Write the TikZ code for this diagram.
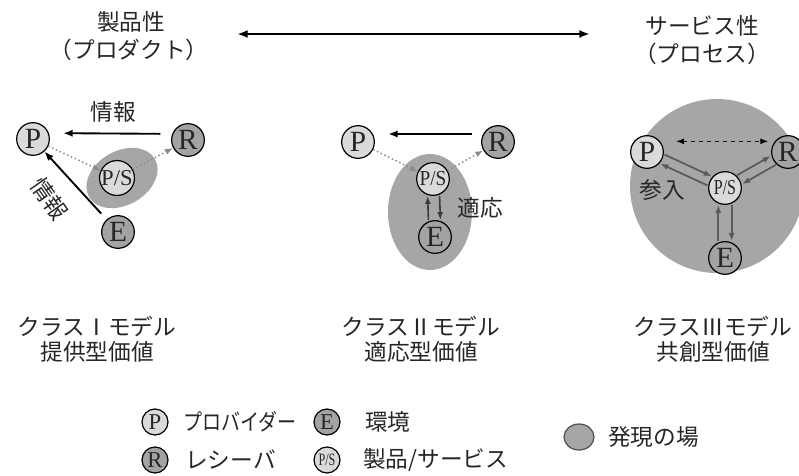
\documentclass[tikz,border=0pt]{standalone}
\usepackage{fontspec}
\usepackage{graphicx}
\setmainfont{Liberation Serif}
\newfontfamily\jp{Noto Sans CJK JP}
\usetikzlibrary{arrows.meta,shapes.geometric}
\definecolor{lite}{HTML}{DADADA}
\definecolor{mid}{HTML}{A3A3A3}
\definecolor{field}{HTML}{A6A6A6}
\definecolor{flowgray}{HTML}{5A5A5A}
\definecolor{flowdark}{HTML}{3C3C3C}
\definecolor{dotgray}{HTML}{8A8A8A}
\tikzset{
  agent/.style={circle,draw=black,line width=0.9pt,minimum size=24.5pt,inner sep=0pt,text=black!85,font=\fontsize{22}{22}\selectfont},
  lagent/.style={agent,fill=lite},
  dagent/.style={agent,fill=mid},
  legagent/.style={minimum size=19.5pt,font=\fontsize{17}{17}\selectfont},
  jtext/.style={font=\jp\fontsize{17}{22}\selectfont,text=black!85,align=center,inner sep=0pt},
  info/.style={-{Latex[length=7pt,width=5.5pt]},line width=1.4pt},
  dots/.style={-{Latex[length=6pt,width=4.5pt]},dotgray,line width=1.1pt,dotted},
  flow/.style={-{Latex[length=6pt,width=4.5pt]},flowgray,line width=1.3pt},
  flowd/.style={-{Latex[length=6pt,width=4.5pt]},flowdark,line width=1.2pt},
  dbl/.style={{Latex[length=6pt,width=4.5pt]}-{Latex[length=6pt,width=4.5pt]},dashed,line width=1.1pt},
  axis/.style={{Latex[length=8pt,width=6pt]}-{Latex[length=8pt,width=6pt]},line width=1.8pt},
  fieldmark/.style={ellipse,draw=black!70,fill=field,line width=0.9pt,minimum width=22.5pt,minimum height=19.5pt,inner sep=0pt}
}
\begin{document}
\begin{tikzpicture}[x=0.75pt,y=-0.75pt]
\useasboundingbox (0,0) rectangle (799,475);

% top axis
\node[jtext] (prod) at (131,22) {製品性};
\node[jtext] (prodsub) at (129,50) {（プロダクト）};
\node[jtext] (serv) at (702,26) {サービス性};
\node[jtext] (servsub) at (702,54) {（プロセス）};
\coordinate (axL) at (237,34);
\coordinate (axR) at (590,34);
\draw[axis] (axL) -- (axR);

% class I
\fill[field, rotate around={30:(122,178)}] (122,178) ellipse [x radius=38, y radius=27];
\node[lagent] (c1P) at (33,139) {P};
\node[dagent] (c1R) at (188,140) {R};
\node[lagent,font=\fontsize{17}{17}\selectfont] (c1S) at (117,178) {P/S};
\node[dagent] (c1E) at (118,232) {E};
\draw[info, transform canvas={yshift=4.5pt}, shorten <=8pt, shorten >=10pt] (c1R) -- (c1P);
\node[jtext] (c1info) at (113,112) {情報};
\draw[info, shorten <=6pt] (c1E) -- (c1P);
\node[jtext, rotate=-55] (c1info2) at (50,199) {情報};
\draw[dots] (c1P) -- (c1S);
\draw[dots] (c1S) -- (c1R);

% class II
\fill[field] (430,212) ellipse [x radius=42, y radius=58];
\node[lagent] (c2P) at (358,142) {P};
\node[dagent] (c2R) at (498,142) {R};
\node[lagent,font=\fontsize{16}{16}\selectfont] (c2S) at (433,179) {\scalebox{0.9}[1]{P/S}};
\node[dagent] (c2E) at (435,237) {E};
\draw[info, transform canvas={yshift=6pt}, shorten <=7pt, shorten >=10pt] (c2R) -- (c2P);
\draw[dots] (c2P) -- (c2S);
\draw[dots] (c2S) -- (c2R);
\draw[flowd, transform canvas={xshift=-4.5pt}] (c2E) -- (c2S);
\draw[flowd, transform canvas={xshift=4.5pt}] (c2S) -- (c2E);
\node[jtext] (c2adapt) at (480,208) {適応};

% class III
\fill[field] (717,186) circle [radius=87];
\node[lagent] (c3P) at (647,152) {P};
\node[dagent] (c3R) at (788,152) {R};
\node[lagent] (c3S) at (725,188) {\scalebox{0.75}[1]{\fontsize{16}{16}\selectfont P/S}};
\node[dagent] (c3E) at (725,258) {E};
\draw[dbl, transform canvas={yshift=8pt}, shorten <=9pt, shorten >=2pt] (c3P) -- (c3R);
\draw[flow, transform canvas={xshift=1.6pt,yshift=3.4pt}] (c3P) -- (c3S);
\draw[flow, transform canvas={xshift=-1.6pt,yshift=-3.4pt}] (c3S) -- (c3P);
\draw[flow, transform canvas={xshift=-1.9pt,yshift=3.3pt}] (c3S) -- (c3R);
\draw[flow, transform canvas={xshift=1.9pt,yshift=-3.3pt}] (c3R) -- (c3S);
\draw[flow, transform canvas={xshift=-5pt}] (c3E) -- (c3S);
\draw[flow, transform canvas={xshift=5pt}] (c3S) -- (c3E);
\node[jtext] (c3join) at (662,190) {参入};

% class labels
\node[jtext] (k1a) at (97,326) {クラスⅠモデル};
\node[jtext] (k1b) at (97,352) {提供型価値};
\node[jtext] (k2a) at (421,326) {クラスⅡモデル};
\node[jtext] (k2b) at (421,352) {適応型価値};
\node[jtext] (k3a) at (713,326) {クラスⅢモデル};
\node[jtext] (k3b) at (713,352) {共創型価値};

% legend
\node[lagent, legagent] (lP) at (155,422) {P};
\node[jtext, anchor=west] (lPt) at (183,422) {\scalebox{0.84}[1]{プロバイダー}};
\node[dagent, legagent] (lE) at (327,422) {E};
\node[jtext, anchor=west] (lEt) at (365,422) {環境};
\node[dagent, legagent] (lR) at (155,460) {R};
\node[jtext, anchor=west] (lRt) at (185,460) {レシーバ};
\node[lagent, legagent] (lS) at (327,460) {\scalebox{0.7}[1]{\fontsize{13}{13}\selectfont P/S}};
\node[jtext, anchor=west] (lSt) at (363,460) {製品/サービス};
\node[fieldmark] (lF) at (579,437) {};
\node[jtext, anchor=west] (lFt) at (608,437) {発現の場};
\end{tikzpicture}
\end{document}
